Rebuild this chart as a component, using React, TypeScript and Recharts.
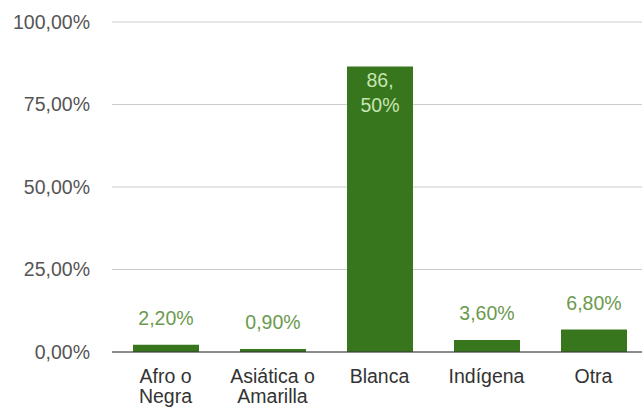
import React from "react";
import {
  BarChart,
  Bar,
  XAxis,
  YAxis,
  CartesianGrid,
  LabelList
} from "recharts";

const categories = ["Afro o Negra", "Asiática o Amarilla", "Blanca", "Indígena", "Otra"];
const shares = [2.2, 0.9, 86.5, 3.6, 6.8];
const tickValues = [0, 25, 50, 75, 100];
const tickLabels = ["0,00%", "25,00%", "50,00%", "75,00%", "100,00%"];

const data = categories.map((name, i) => ({ name, value: shares[i] }));

const FONT = "'Liberation Sans', Arial, sans-serif";
const FS = 19.5;

const fmt = (v: number) => v.toFixed(2).replace(".", ",") + "%";

// split "Afro o Negra" -> ["Afro o", "Negra"]
function splitLabel(s: string) {
  const words = s.split(" ");
  if (words.length < 3) return [s];
  return [words.slice(0, -1).join(" "), words[words.length - 1]];
}

function CategoryTick(props: any) {
  const { x, y, payload } = props;
  const lines = splitLabel(payload.value);
  return (
    <text x={x} y={y + 23} textAnchor="middle" fill="#333" fontSize={FS} fontFamily={FONT}>
      {lines.map((l, i) => (
        <tspan key={i} x={x} dy={i === 0 ? 0 : 20}>
          {l}
        </tspan>
      ))}
    </text>
  );
}

function ValueLabel(props: any) {
  const { x, y, width, height, value } = props;
  const cx = x + width / 2;
  if (height > 60) {
    // long bar: label sits inside, wrapped after the comma
    const [a, b] = fmt(value).split(",");
    return (
      <text x={cx} y={y + 13} textAnchor="middle" dominantBaseline="central" fill="#c6e5b3" fontSize={FS} fontFamily={FONT}>
        <tspan x={cx}>{a + ","}</tspan>
        <tspan x={cx} dy={25}>{b}</tspan>
      </text>
    );
  }
  return (
    <text x={cx} y={y - 27} textAnchor="middle" dominantBaseline="central" fill="#6a9a4e" fontSize={FS} fontFamily={FONT}>
      {fmt(value)}
    </text>
  );
}

export default function App() {
  return (
    <div style={{ width: 642, height: 411, overflow: "hidden", background: "#fff" }}>
      <style>{"body{margin:0}"}</style>
      <BarChart
        width={648}
        height={411}
        data={data}
        margin={{ top: 22, right: 1, left: 0, bottom: 0 }}
      >
        <CartesianGrid vertical={false} stroke="#cccccc" />
        <XAxis
          dataKey="name"
          interval={0}
          height={59}
          tickLine={false}
          axisLine={{ stroke: "#333" }}
          tick={<CategoryTick />}
        />
        <YAxis
          domain={[0, 100]}
          ticks={tickValues}
          width={112}
          tickLine={false}
          axisLine={false}
          tickMargin={16}
          tickFormatter={(v: number) => tickLabels[tickValues.indexOf(v)]}
          tick={{ fill: "#555", fontSize: FS, fontFamily: FONT }}
        />
        <Bar dataKey="value" fill="#38761d" barSize={66} isAnimationActive={false}>
          <LabelList dataKey="value" content={<ValueLabel />} />
        </Bar>
      </BarChart>
    </div>
  );
}
